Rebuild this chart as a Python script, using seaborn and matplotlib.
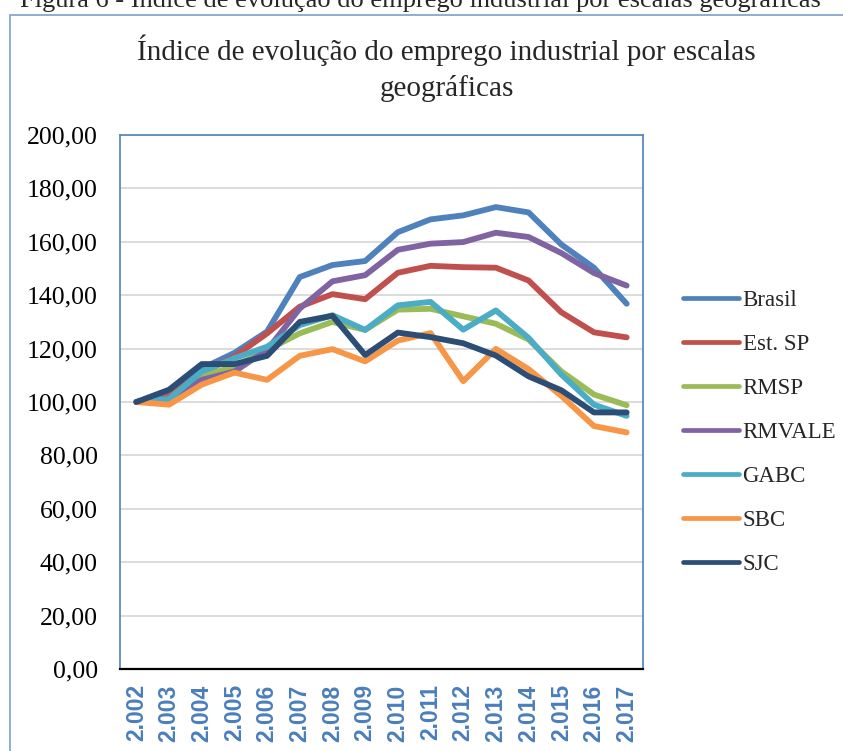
import matplotlib
matplotlib.use("Agg")
import matplotlib.pyplot as plt
import seaborn as sns
import pandas as pd
from matplotlib.patches import Rectangle
from matplotlib.ticker import FuncFormatter

# ── Data ────────────────────────────────────────────────────────────────────
YEARS = list(range(2002, 2018))
YEAR_LABELS = ["2.0%02d" % (y - 2000) for y in YEARS]

SERIES = ["Brasil", "Est. SP", "RMSP", "RMVALE", "GABC", "SBC", "SJC"]
brasil = [100, 102.7, 112.5, 118.4, 126.4, 146.8, 151.3, 152.8, 163.6, 168.4, 169.9, 173.0, 171.0, 159.0, 150.3, 136.8]
est_sp = [100, 102.4, 110.8, 117.0, 125.7, 135.7, 140.4, 138.5, 148.4, 151.0, 150.5, 150.3, 145.5, 133.6, 126.1, 124.2]
rmsp = [100, 101.5, 109.6, 113.3, 119.5, 125.7, 130.0, 127.0, 134.6, 134.9, 132.1, 129.3, 123.4, 111.5, 102.8, 98.8]
rmvale = [100, 101.5, 108.3, 111.4, 119.5, 135.0, 145.2, 147.5, 157.0, 159.3, 159.9, 163.4, 161.8, 155.8, 148.3, 143.6]
gabc = [100, 101.1, 111.4, 116.4, 120.7, 128.8, 132.5, 127.0, 136.2, 137.5, 127.1, 134.3, 124.0, 110.3, 99.0, 94.8]
sbc = [100, 99.0, 106.5, 111.0, 108.3, 117.3, 119.8, 115.2, 123.0, 125.8, 107.8, 119.9, 112.3, 102.3, 91.0, 88.6]
sjc = [100, 104.6, 114.2, 114.2, 117.3, 130.0, 132.3, 117.6, 126.0, 124.3, 122.0, 117.4, 109.6, 104.4, 96.1, 96.1]

COLORS = ["#4F81BD", "#C0504D", "#9BBB59", "#8064A2", "#4BACC6", "#F79646", "#2C4D75"]

values = [brasil, est_sp, rmsp, rmvale, gabc, sbc, sjc]
rows = []
for name, vals in zip(SERIES, values):
    for i, v in enumerate(vals):
        rows.append({"pos": i, "serie": name, "indice": v})
df = pd.DataFrame(rows)

# ── Figure ──────────────────────────────────────────────────────────────────
sns.set_theme(style="white")
plt.rcParams["font.family"] = ["Liberation Serif", "DejaVu Serif"]

W, H = 843, 751
fig = plt.figure(figsize=(W / 100, H / 100), dpi=100)
ax = fig.add_axes([120 / W, 1 - 669 / H, (643 - 120) / W, (669 - 135) / H])

sns.lineplot(data=df, x="pos", y="indice", hue="serie", hue_order=SERIES,
             palette=COLORS, linewidth=4.2, sort=False, ax=ax)
for line in ax.lines:
    line.set_solid_capstyle("round")
    line.set_solid_joinstyle("round")

ax.set_xlim(-0.5, 15.5)
ax.set_ylim(0, 200)
ax.set_yticks(range(0, 201, 20))
ax.yaxis.set_major_formatter(FuncFormatter(lambda v, p: f"{v:.2f}".replace(".", ",")))
ax.set_xticks(range(len(YEARS)))
ax.set_xticklabels(YEAR_LABELS, rotation=90, fontfamily="Liberation Sans",
                   fontweight="bold", fontsize=16.5, color="#4A7EBB")
ax.tick_params(axis="y", labelsize=18.5, length=0, pad=16, labelcolor="black")
ax.tick_params(axis="x", length=0, pad=11)
ax.set_xlabel("")
ax.set_ylabel("")

ax.grid(axis="y", color="#D9D9D9", linewidth=1.3)
ax.set_axisbelow(True)
for side in ["left", "top", "right"]:
    ax.spines[side].set_color("#4F81BD")
    ax.spines[side].set_linewidth(1.2)
ax.spines["bottom"].set_color("black")
ax.spines["bottom"].set_linewidth(1.6)

# Legend on the right
leg = ax.legend(loc="center left", bbox_to_anchor=(683 / W, 1 - 432.5 / H),
                bbox_transform=fig.transFigure, frameon=False, fontsize=16.5,
                handlelength=2.45, handletextpad=0.15, labelspacing=1.0,
                borderpad=0, borderaxespad=0)
for h in leg.get_lines():
    h.set_linewidth(3.4)
    h.set_solid_capstyle("round")

# Chart title and outer caption
fig.text(446.5 / W, 1 - 60 / H, "Índice de evolução do emprego industrial por escalas",
         ha="center", va="baseline", fontsize=21)
fig.text(446.5 / W, 1 - 96 / H, "geográficas", ha="center", va="baseline", fontsize=21)
fig.text(20 / W, 1 - 7.5 / H,
         "Figura 6 - Índice de evolução do emprego industrial por escalas geográficas",
         ha="left", va="baseline", fontsize=19)

# Outer chart frame (runs off the right and bottom edges)
fig.patches.append(Rectangle((10 / W, -0.05), 1.0, 1 - 15 / H + 0.05,
                             transform=fig.transFigure, fill=False,
                             edgecolor="#7BA0CD", linewidth=1.2))

fig.savefig("out.png", dpi=100)
plt.close(fig)
